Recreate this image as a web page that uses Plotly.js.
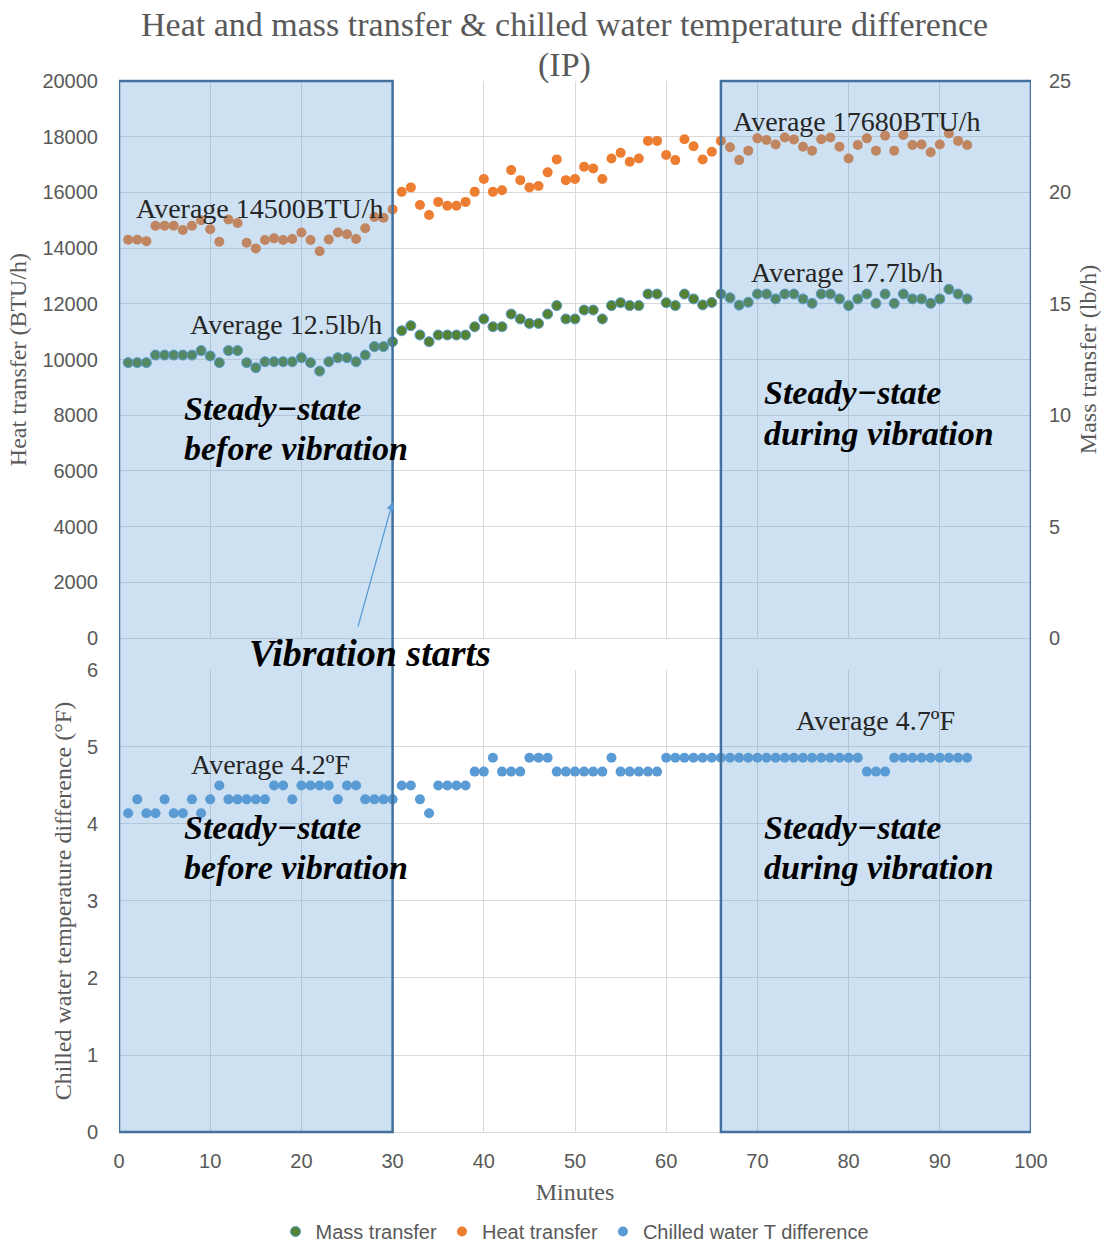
<!DOCTYPE html>
<html>
<head>
<meta charset="utf-8">
<script src="https://cdn.plot.ly/plotly-3.0.1.min.js"></script>
<style>html,body{margin:0;padding:0;background:#fff;}#chart{width:1109px;height:1244px;}</style>
</head>
<body>
<div id="chart"></div>
<script>
const minutes = [1,2,3,4,5,6,7,8,9,10,11,12,13,14,15,16,17,18,19,20,21,22,23,24,25,26,27,28,29,30,
31,32,33,34,35,36,37,38,39,40,41,42,43,44,45,46,47,48,49,50,51,52,53,54,55,56,57,58,59,60,
61,62,63,64,65,66,67,68,69,70,71,72,73,74,75,76,77,78,79,80,81,82,83,84,85,86,87,88,89,90,91,92,93];

const heatTransfer = [14300,14300,14250,14800,14800,14800,14650,14800,15000,14680,
14230,15030,14900,14190,13990,14290,14350,14290,14330,14560,
14290,13890,14310,14560,14500,14330,14710,15120,15090,15390,
16020,16180,15545,15186,15660,15520,15520,15660,16020,16480,
16020,16080,16800,16440,16180,16230,16720,17185,16440,16480,
16920,16860,16480,17220,17420,17100,17220,17850,17850,17340,
17160,17910,17660,17180,17460,17850,17620,17160,17500,17940,
17880,17720,17970,17900,17640,17500,17910,17970,17640,17220,
17700,17940,17500,18040,17500,18060,17700,17720,17440,17720,
18120,17850,17700];

const massTransfer = [12.36,12.36,12.36,12.70,12.70,12.70,12.70,12.70,12.90,12.66,
12.36,12.90,12.90,12.36,12.13,12.40,12.40,12.40,12.40,12.58,
12.36,11.98,12.40,12.58,12.58,12.40,12.70,13.08,13.08,13.30,
13.79,14.02,13.60,13.30,13.60,13.60,13.60,13.60,13.97,14.32,
13.97,13.97,14.54,14.32,14.12,14.12,14.54,14.92,14.32,14.32,
14.72,14.72,14.32,14.92,15.05,14.92,14.92,15.44,15.44,15.05,
14.92,15.44,15.22,14.95,15.06,15.44,15.27,14.94,15.07,15.44,
15.44,15.22,15.44,15.44,15.22,15.02,15.44,15.44,15.22,14.92,
15.22,15.44,15.02,15.44,15.02,15.44,15.22,15.22,15.02,15.22,
15.65,15.44,15.22];

const chilledDiff = [4.14,4.32,4.14,4.14,4.32,4.14,4.14,4.32,4.14,4.32,
4.50,4.32,4.32,4.32,4.32,4.32,4.50,4.50,4.32,4.50,
4.50,4.50,4.50,4.32,4.50,4.50,4.32,4.32,4.32,4.32,
4.50,4.50,4.32,4.14,4.50,4.50,4.50,4.50,4.68,4.68,
4.86,4.68,4.68,4.68,4.86,4.86,4.86,4.68,4.68,4.68,
4.68,4.68,4.68,4.86,4.68,4.68,4.68,4.68,4.68,4.86,
4.86,4.86,4.86,4.86,4.86,4.86,4.86,4.86,4.86,4.86,
4.86,4.86,4.86,4.86,4.86,4.86,4.86,4.86,4.86,4.86,
4.86,4.68,4.68,4.68,4.86,4.86,4.86,4.86,4.86,4.86,
4.86,4.86,4.86];

const regions = [[0,30],[66,100]];
const seriesNames = ['Mass transfer','Heat transfer','Chilled water T difference'];
const titleLines = ['Heat and mass transfer & chilled water temperature difference', '(IP)'];

const serif = 'Liberation Serif, Times New Roman, serif';
const sans = 'Liberation Sans, Arial, sans-serif';
const grid = '#d9d9d9';
const tickFont = {family: sans, size: 20, color: '#595959'};
const axTitleFont = {family: serif, size: 24, color: '#595959'};
const titleFont = {family: serif, size: 34, color: '#595959'};

const traces = [
  {x: minutes, y: massTransfer, name: seriesNames[0], type: 'scatter', mode: 'markers',
   xaxis: 'x2', yaxis: 'y2',
   marker: {color: '#548235', size: 10, line: {color: '#5b9bd5', width: 1}}},
  {x: minutes, y: heatTransfer, name: seriesNames[1], type: 'scatter', mode: 'markers',
   xaxis: 'x2', yaxis: 'y',
   marker: {color: '#ed7d31', size: 10}},
  {x: minutes, y: chilledDiff, name: seriesNames[2], type: 'scatter', mode: 'markers',
   xaxis: 'x', yaxis: 'y3',
   marker: {color: '#5b9bd5', size: 10}}
];

const topDom = [0.47, 1];
const botDom = [0, 0.4396];

const shapes = regions.map(r => ({
  type: 'rect', xref: 'x', yref: 'paper', x0: r[0], x1: r[1], y0: 0, y1: 1,
  layer: 'above', fillcolor: 'rgba(91,155,213,0.3)',
  line: {color: '#41719c', width: 2.5}
}));

const avgFont = {family: serif, size: 28, color: '#262626'};
const ssFont = {family: serif, size: 34, color: '#000000'};
function ss(xref, yref, x, y1, y2, l1, l2) {
  return [
    {xref: xref, yref: yref, x: x, y: y1, xanchor: 'left', yanchor: 'middle', text: '<b><i>' + l1 + '</i></b>', showarrow: false, font: ssFont},
    {xref: xref, yref: yref, x: x, y: y2, xanchor: 'left', yanchor: 'middle', text: '<b><i>' + l2 + '</i></b>', showarrow: false, font: ssFont}
  ];
}
const annotations = [
  {xref: 'paper', yref: 'paper', x: 0.488, y: 1.0533, yanchor: 'middle', text: titleLines[0], showarrow: false, font: titleFont},
  {xref: 'paper', yref: 'paper', x: 0.488, y: 1.0152, yanchor: 'middle', text: titleLines[1], showarrow: false, font: titleFont},
  {xref: 'x2', yref: 'y', x: 15.5, y: 15440, text: 'Average 14500BTU/h', showarrow: false, font: avgFont},
  {xref: 'x2', yref: 'y', x: 18.3, y: 11240, text: 'Average 12.5lb/h', showarrow: false, font: avgFont},
  {xref: 'x2', yref: 'y', x: 80.9, y: 18560, text: 'Average 17680BTU/h', showarrow: false, font: avgFont},
  {xref: 'x2', yref: 'y', x: 79.8, y: 13140, text: 'Average 17.7lb/h', showarrow: false, font: avgFont},
  ...ss('x2', 'y', 6.9, 8230, 6790, 'Steady−state', 'before vibration'),
  ...ss('x2', 'y', 70.5, 8800, 7360, 'Steady−state', 'during vibration'),
  ...ss('x', 'y3', 6.9, 3.95, 3.43, 'Steady−state', 'before vibration'),
  ...ss('x', 'y3', 70.5, 3.95, 3.43, 'Steady−state', 'during vibration'),
  {xref: 'x', yref: 'y3', x: 16.6, y: 4.77, text: 'Average 4.2ºF', showarrow: false, font: avgFont},
  {xref: 'x', yref: 'y3', x: 82.9, y: 5.34, text: 'Average 4.7ºF', showarrow: false, font: avgFont},
  {xref: 'x', yref: 'paper', x: 27.5, y: 0.4558, yanchor: 'middle', text: '<b><i>Vibration starts</i></b>', showarrow: false, font: {family: serif, size: 38, color: '#000000'}},
  {xref: 'x2', yref: 'y', x: 30, y: 4880, ax: -35, ay: 126, text: '', showarrow: true,
   arrowhead: 2, arrowsize: 1.2, arrowwidth: 1.3, arrowcolor: '#5b9bd5'}
];

const layout = {
  width: 1109, height: 1244,
  paper_bgcolor: '#ffffff', plot_bgcolor: '#ffffff',
  margin: {l: 119, r: 78, t: 81, b: 112},
  showlegend: true,
  legend: {orientation: 'h', xref: 'paper', x: 0.5, xanchor: 'center', yref: 'container', y: 0.01, yanchor: 'middle',
    font: {family: sans, size: 20, color: '#595959'}, itemwidth: 30, tracegroupgap: 0},
  xaxis: {domain: [0,1], anchor: 'y3', range: [0,100], dtick: 10, tick0: 0,
    showgrid: true, gridcolor: grid, zeroline: false, showline: false, ticks: '', ticklabelstandoff: 15,
    tickfont: tickFont, automargin: false,
    title: {text: 'Minutes', font: axTitleFont, standoff: 12}},
  xaxis2: {domain: [0,1], anchor: 'y', matches: 'x', range: [0,100], dtick: 10, tick0: 0,
    showgrid: true, gridcolor: grid, zeroline: false, showline: false, showticklabels: false, ticks: ''},
  yaxis: {domain: topDom, anchor: 'x2', range: [0,20000], dtick: 2000, tick0: 0, tickformat: 'd',
    showgrid: true, gridcolor: grid, zeroline: true, zerolinecolor: grid, zerolinewidth: 1, showline: false, ticks: '',
    ticklabelstandoff: 20, tickfont: tickFont, automargin: false,
    title: {text: 'Heat transfer (BTU/h)', font: axTitleFont, standoff: 8}},
  yaxis2: {domain: topDom, anchor: 'x2', overlaying: 'y', side: 'right', range: [0,25], dtick: 5, tick0: 0,
    showgrid: false, zeroline: false, showline: false, ticks: '', ticklabelstandoff: 17,
    tickfont: tickFont, automargin: false,
    title: {text: 'Mass transfer (lb/h)', font: axTitleFont, standoff: 8}},
  yaxis3: {domain: botDom, anchor: 'x', range: [0,6], dtick: 1, tick0: 0,
    showgrid: true, gridcolor: grid, zeroline: true, zerolinecolor: grid, showline: false, ticks: '',
    ticklabelstandoff: 20, tickfont: tickFont, automargin: false,
    title: {text: 'Chilled water temperature difference (°F)', font: axTitleFont, standoff: 8}},
  shapes: shapes,
  annotations: annotations
};

Plotly.newPlot('chart', traces, layout, {staticPlot: true, displayModeBar: false});
</script>
</body>
</html>
